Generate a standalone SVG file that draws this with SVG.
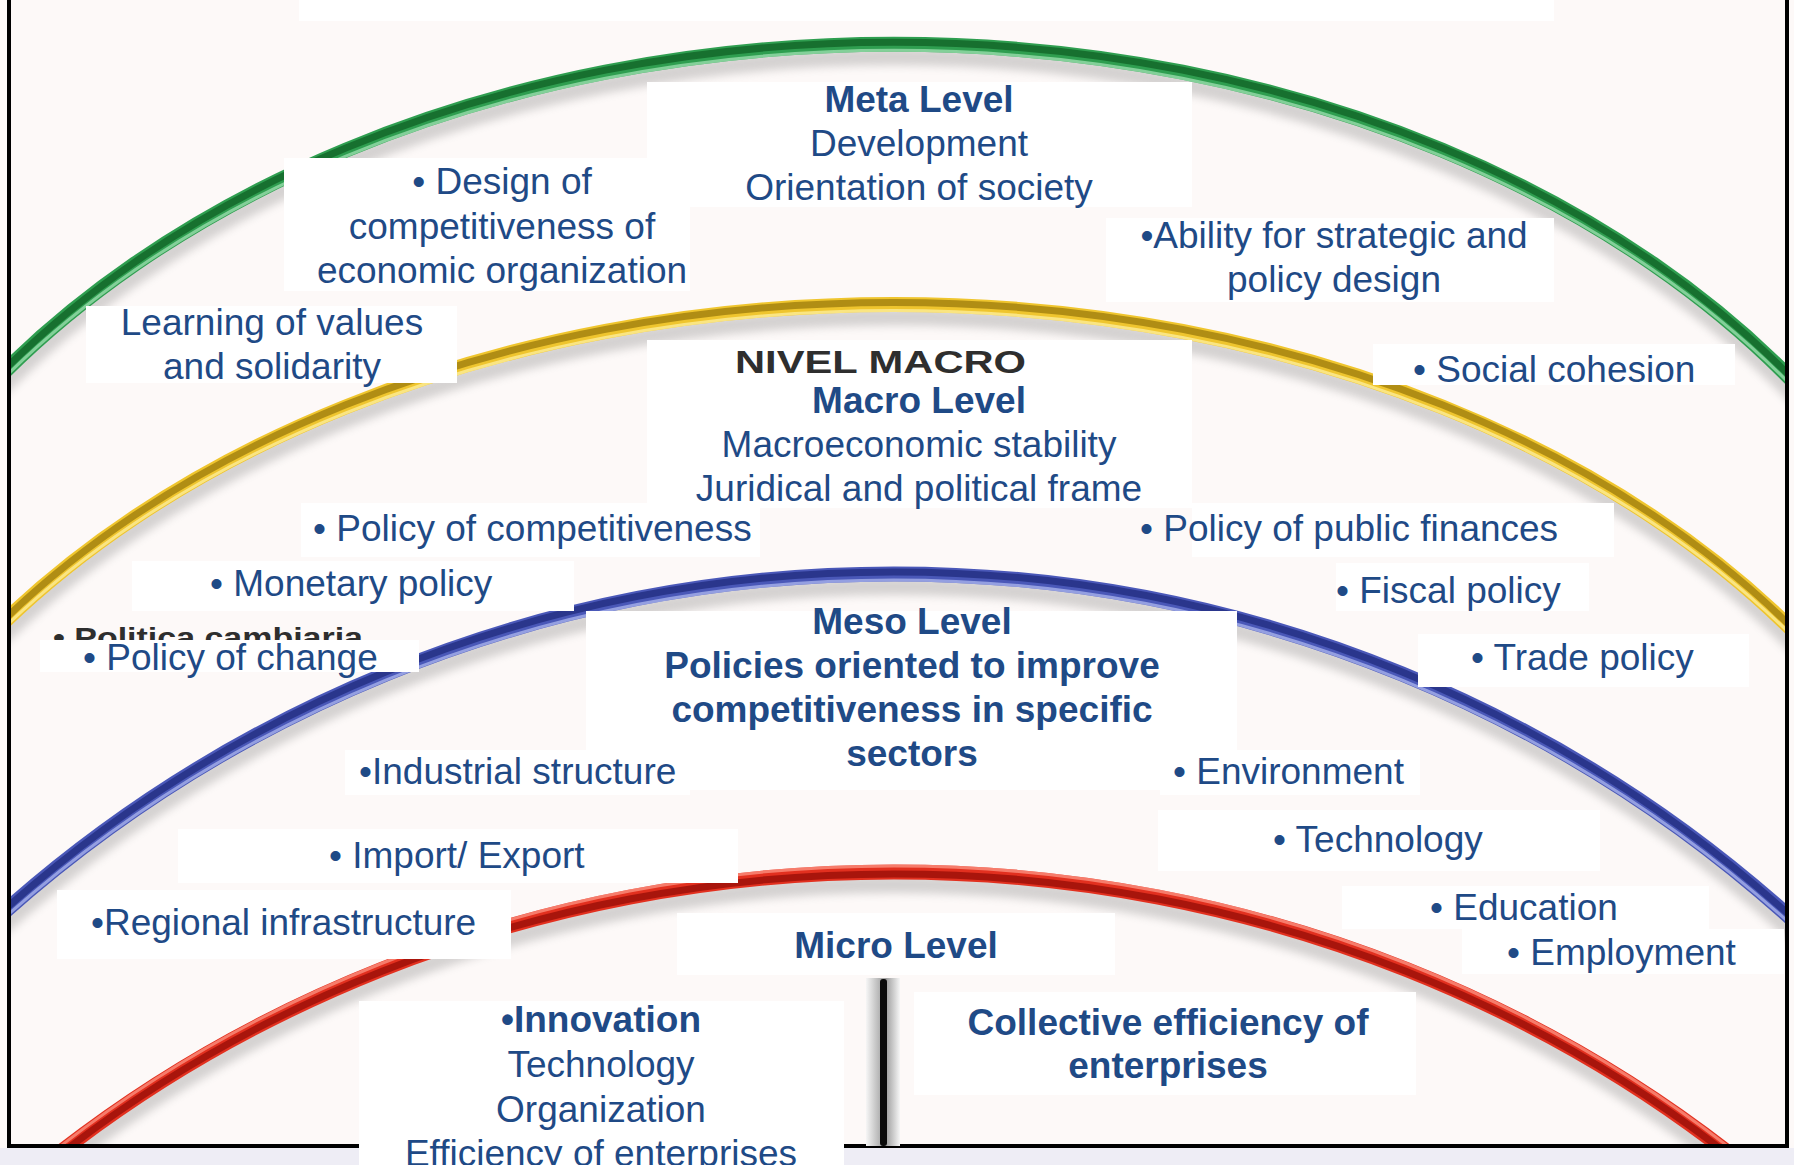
<svg xmlns="http://www.w3.org/2000/svg" xmlns:xlink="http://www.w3.org/1999/xlink" width="1794" height="1165" viewBox="0 0 1794 1165">
<style>
.t{font-family:"Liberation Sans",Arial,Helvetica,sans-serif;font-size:37px;fill:#1f4a86}
.b{font-weight:bold}
.c{text-anchor:middle}
.box{fill:#ffffff}
.ghost{font-family:"Liberation Sans",Arial,sans-serif;font-weight:bold;fill:#2e2e2e}
.sh{fill:none;stroke:#808080;stroke-width:18;opacity:.32}
.main{fill:none;stroke-width:15}
.core{fill:none;stroke-width:7}
.hl{fill:none;stroke-width:3;opacity:.7}
.frame{stroke:#000;stroke-width:4;fill:none}
</style>
<defs>
<path id="pG" d="M -20 397 A 1100 795 0 0 1 1808 397"/>
<path id="pY" d="M -20 646 A 1100 770 0 0 1 1808 646"/>
<path id="pB" d="M -20 934 A 1340 1340 0 0 1 1808 934"/>
<path id="pR" d="M -20 1220 A 1300 1205 0 0 1 1808 1220"/>
<filter id="blur" x="-5%" y="-20%" width="110%" height="140%"><feGaussianBlur stdDeviation="4"/></filter>
<clipPath id="clipFrame"><rect x="9" y="0" width="1778" height="1146"/></clipPath>
<linearGradient id="vshade" x1="0" y1="0" x2="1" y2="0">
<stop offset="0" stop-color="#f6f6f6"/>
<stop offset="0.4" stop-color="#b4b4b4"/>
<stop offset="0.6" stop-color="#a0a0a0"/>
<stop offset="1" stop-color="#f6f6f6"/>
</linearGradient>
</defs>

<!-- background -->
<rect x="0" y="0" width="1794" height="1165" fill="#fdf9f8"/>
<rect x="299" y="0" width="1255" height="21" fill="#ffffff"/>
<rect x="0" y="1148" width="1794" height="17" fill="#eeedf5"/>

<!-- level arcs -->
<g id="level-arcs" clip-path="url(#clipFrame)">
  <g id="arc-meta">
    <use xlink:href="#pG" class="sh" transform="translate(0,12)" filter="url(#blur)"/>
    <use xlink:href="#pG" class="main" stroke="#2f9e50"/>
    <use xlink:href="#pG" class="core" stroke="#17702f" transform="translate(0,-2)"/>
    <use xlink:href="#pG" class="hl" stroke="#a6e6b8" transform="translate(0,6)"/>
  </g>
  <g id="arc-macro">
    <use xlink:href="#pY" class="sh" transform="translate(0,12)" filter="url(#blur)"/>
    <use xlink:href="#pY" class="main" stroke="#efc52e"/>
    <use xlink:href="#pY" class="core" stroke="#b08d14" transform="translate(0,-2)"/>
    <use xlink:href="#pY" class="hl" stroke="#fff2a6" transform="translate(0,6)"/>
  </g>
  <g id="arc-meso">
    <use xlink:href="#pB" class="sh" transform="translate(0,12)" filter="url(#blur)"/>
    <use xlink:href="#pB" class="main" stroke="#4a58b8"/>
    <use xlink:href="#pB" class="core" stroke="#2a368c" transform="translate(0,-2)"/>
    <use xlink:href="#pB" class="hl" stroke="#b4bdf2" transform="translate(0,6)"/>
  </g>
  <g id="arc-micro">
    <use xlink:href="#pR" class="sh" transform="translate(0,12)" filter="url(#blur)"/>
    <use xlink:href="#pR" class="main" stroke="#e2301f"/>
    <use xlink:href="#pR" class="core" stroke="#a8150c" transform="translate(0,2)"/>
    <use xlink:href="#pR" class="hl" stroke="#ff9c8c" transform="translate(0,-6)"/>
  </g>
</g>

<!-- META level -->
<g id="meta-title">
  <rect class="box" x="647" y="82" width="545" height="125"/>
  <text class="t b c" x="919" y="112">Meta Level</text>
  <text class="t c" x="919" y="156">Development</text>
  <text class="t c" x="919" y="200">Orientation of society</text>
</g>
<g id="meta-design">
  <rect class="box" x="284" y="158" width="406" height="133"/>
  <text class="t c" x="502" y="194">• Design of</text>
  <text class="t c" x="502" y="239">competitiveness of</text>
  <text class="t c" x="502" y="283">economic organization</text>
</g>
<g id="meta-learning">
  <rect class="box" x="86" y="306" width="371" height="77"/>
  <text class="t c" x="272" y="335">Learning of values</text>
  <text class="t c" x="272" y="379">and solidarity</text>
</g>
<g id="meta-ability">
  <rect class="box" x="1106" y="218" width="448" height="84"/>
  <text class="t c" x="1334" y="248">•Ability for strategic and</text>
  <text class="t c" x="1334" y="292">policy design</text>
</g>
<g id="meta-social">
  <rect class="box" x="1373" y="344" width="362" height="41"/>
  <text class="t" x="1413" y="382">• Social cohesion</text>
</g>

<!-- MACRO level -->
<g id="macro-title">
  <rect class="box" x="647" y="340" width="545" height="168"/>
  <text class="ghost" x="735" y="373" font-size="32" textLength="291" lengthAdjust="spacingAndGlyphs">NIVEL MACRO</text>
  <text class="t b c" x="919" y="413">Macro Level</text>
  <text class="t c" x="919" y="457">Macroeconomic stability</text>
  <text class="t c" x="919" y="501">Juridical and political frame</text>
</g>
<g id="macro-competitiveness">
  <rect class="box" x="301" y="503" width="459" height="54"/>
  <text class="t" x="313" y="541">• Policy of competitiveness</text>
</g>
<g id="macro-public-finances">
  <rect class="box" x="1192" y="503" width="422" height="54"/>
  <text class="t" x="1140" y="541">• Policy of public finances</text>
</g>
<g id="macro-monetary">
  <rect class="box" x="132" y="561" width="442" height="50"/>
  <text class="t" x="210" y="596">• Monetary policy</text>
</g>
<g id="macro-fiscal">
  <rect class="box" x="1336" y="563" width="253" height="48"/>
  <text class="t" x="1336" y="603">• Fiscal policy</text>
</g>
<g id="macro-change">
  <text class="ghost" x="53" y="647" font-size="28" textLength="310" lengthAdjust="spacingAndGlyphs">• Politica cambiaria</text>
  <rect class="box" x="40" y="640" width="379" height="32"/>
  <text class="t" x="83" y="670">• Policy of change</text>
</g>
<g id="macro-trade">
  <rect class="box" x="1418" y="634" width="331" height="53"/>
  <text class="t" x="1471" y="670">• Trade policy</text>
</g>

<!-- MESO level -->
<g id="meso-title">
  <rect class="box" x="586" y="611" width="651" height="179"/>
  <text class="t b c" x="912" y="634">Meso Level</text>
  <text class="t b c" x="912" y="678">Policies oriented to improve</text>
  <text class="t b c" x="912" y="722">competitiveness in specific</text>
  <text class="t b c" x="912" y="766">sectors</text>
</g>
<g id="meso-industrial">
  <rect class="box" x="345" y="750" width="345" height="45"/>
  <text class="t" x="359" y="784">•Industrial structure</text>
</g>
<g id="meso-environment">
  <rect class="box" x="1160" y="750" width="260" height="45"/>
  <text class="t" x="1173" y="784">• Environment</text>
</g>
<g id="meso-technology">
  <rect class="box" x="1158" y="810" width="442" height="61"/>
  <text class="t" x="1273" y="852">• Technology</text>
</g>
<g id="meso-import-export">
  <rect class="box" x="178" y="829" width="560" height="54"/>
  <text class="t" x="329" y="868">• Import/ Export</text>
</g>
<g id="meso-education">
  <rect class="box" x="1342" y="886" width="367" height="43"/>
  <text class="t" x="1430" y="920">• Education</text>
</g>
<g id="meso-regional">
  <rect class="box" x="57" y="890" width="454" height="69"/>
  <text class="t" x="91" y="935">•Regional infrastructure</text>
</g>
<g id="meso-employment">
  <rect class="box" x="1462" y="929" width="322" height="45"/>
  <text class="t" x="1507" y="965">• Employment</text>
</g>

<!-- MICRO level -->
<g id="micro-title">
  <rect class="box" x="677" y="913" width="438" height="62"/>
  <text class="t b c" x="896" y="958">Micro Level</text>
</g>
<g id="micro-collective">
  <rect class="box" x="914" y="992" width="502" height="103"/>
  <text class="t b c" x="1168" y="1035">Collective efficiency of</text>
  <text class="t b c" x="1168" y="1078">enterprises</text>
</g>

<!-- frame -->
<g id="frame">
  <line class="frame" x1="9" y1="0" x2="9" y2="1148"/>
  <line class="frame" x1="1787" y1="0" x2="1787" y2="1148"/>
  <line class="frame" x1="7" y1="1146" x2="359" y2="1146"/>
  <line class="frame" x1="844" y1="1146" x2="1789" y2="1146"/>
</g>

<g id="micro-innovation">
  <rect class="box" x="359" y="1001" width="485" height="164"/>
  <text class="t b c" x="601" y="1032">•Innovation</text>
  <text class="t c" x="601" y="1077">Technology</text>
  <text class="t c" x="601" y="1122">Organization</text>
  <text class="t c" x="601" y="1166">Efficiency of enterprises</text>
</g>

<!-- divider between micro columns -->
<g id="connectors">
  <rect x="866" y="978" width="34" height="168" fill="url(#vshade)"/>
  <rect x="880" y="979" width="7" height="167" rx="3" fill="#0a0a0a"/>
</g>
</svg>
